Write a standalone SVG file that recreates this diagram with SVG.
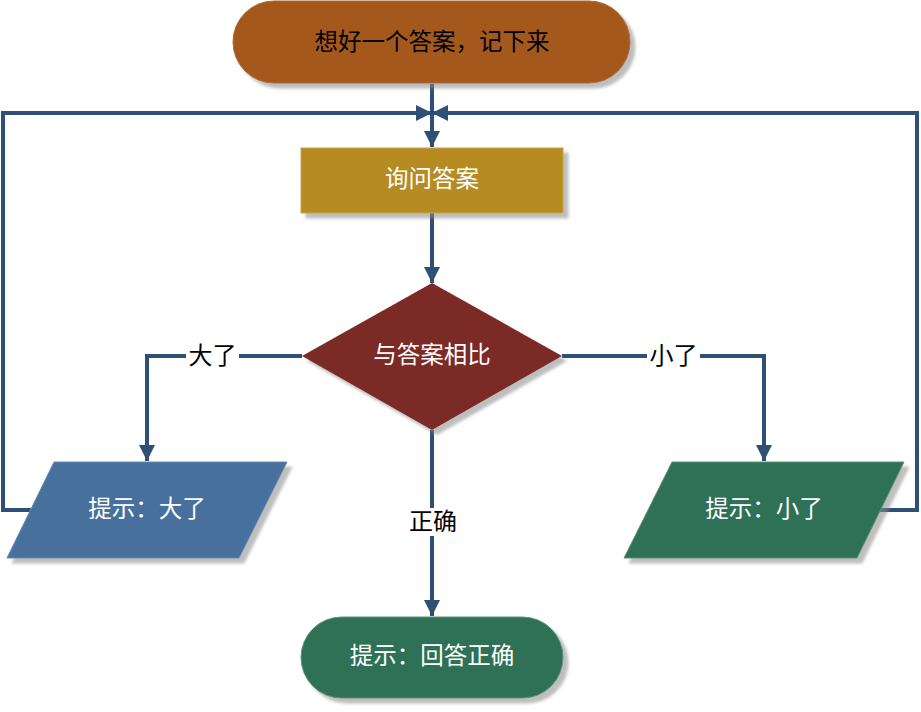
<svg xmlns="http://www.w3.org/2000/svg" width="921" height="712" viewBox="0 0 921 712">
<style>
.conn{fill:none;stroke:#2F5075;stroke-width:4;stroke-linejoin:miter}
.nt{font-family:"Noto Sans CJK SC","Liberation Sans",sans-serif;font-size:23.5px;text-anchor:middle;dominant-baseline:central}
.lb{font-family:"Noto Sans CJK SC","Liberation Sans",sans-serif;font-size:24px;text-anchor:middle;dominant-baseline:central;fill:#000}
.bg{fill:#fff}
.shape{filter:url(#sh)}
</style>
<defs>
<filter id="sh" x="-10%" y="-10%" width="125%" height="130%">
<feDropShadow dx="5" dy="5" stdDeviation="1.5" flood-color="#888" flood-opacity="0.55"/>
</filter>
<marker id="ah" viewBox="0 0 16 16" refX="16" refY="8" markerWidth="16" markerHeight="16" markerUnits="userSpaceOnUse" orient="auto">
<path d="M0,0 L16,8 L0,16 Z" fill="#2F5075"/>
</marker>
</defs>
<g id="connectors">
<path class="conn" d="M432,84 V147" marker-end="url(#ah)"/>
<path class="conn" d="M31,510 H3 V113 H432" marker-end="url(#ah)"/>
<path class="conn" d="M880,510 H917 V113 H432" marker-end="url(#ah)"/>
<path class="conn" d="M432,213 V283" marker-end="url(#ah)"/>
<path class="conn" d="M302,356 H147 V461" marker-end="url(#ah)"/>
<path class="conn" d="M562,356 H764 V461" marker-end="url(#ah)"/>
<path class="conn" d="M432,430 V616" marker-end="url(#ah)"/>
<rect class="bg" x="186" y="342" width="53" height="27"/>
<text class="lb" x="212.5" y="353">大了</text>
<rect class="bg" x="647" y="342" width="53" height="27"/>
<text class="lb" x="673.5" y="353">小了</text>
<rect class="bg" x="407" y="508" width="52" height="28"/>
<text class="lb" x="433" y="519">正确</text>
</g>
<g id="start">
<rect class="shape" x="233" y="1" width="397" height="82" rx="41" ry="41" fill="#A4581F" stroke="#B06A35" stroke-width="1"/>
<text class="nt" x="432" y="40" fill="#000">想好一个答案，记下来</text>
</g>
<g id="ask">
<rect class="shape" x="301" y="148" width="262" height="65" fill="#B58B21" stroke="#C9A34A" stroke-width="1"/>
<text class="nt" x="432" y="177" fill="#fff">询问答案</text>
</g>
<g id="compare">
<polygon class="shape" points="432,283 562,356 432,430 302,356" fill="#7B2A26"/>
<text class="nt" x="432" y="353" fill="#fff">与答案相比</text>
</g>
<g id="too-big">
<polygon class="shape" points="54,462 287,462 239,558 7,558" fill="#46709C" stroke="#6A8DB2" stroke-width="1"/>
<text class="nt" x="147" y="507" fill="#fff">提示：大了</text>
</g>
<g id="too-small">
<polygon class="shape" points="672,462 904,462 857,558 624,558" fill="#2E7156" stroke="#5E927C" stroke-width="1"/>
<text class="nt" x="764" y="507" fill="#fff">提示：小了</text>
</g>
<g id="correct">
<rect class="shape" x="301" y="617" width="262" height="81" rx="40.5" ry="40.5" fill="#2E7156" stroke="#5E927C" stroke-width="1"/>
<text class="nt" x="432" y="654" fill="#fff">提示：回答正确</text>
</g>
</svg>
